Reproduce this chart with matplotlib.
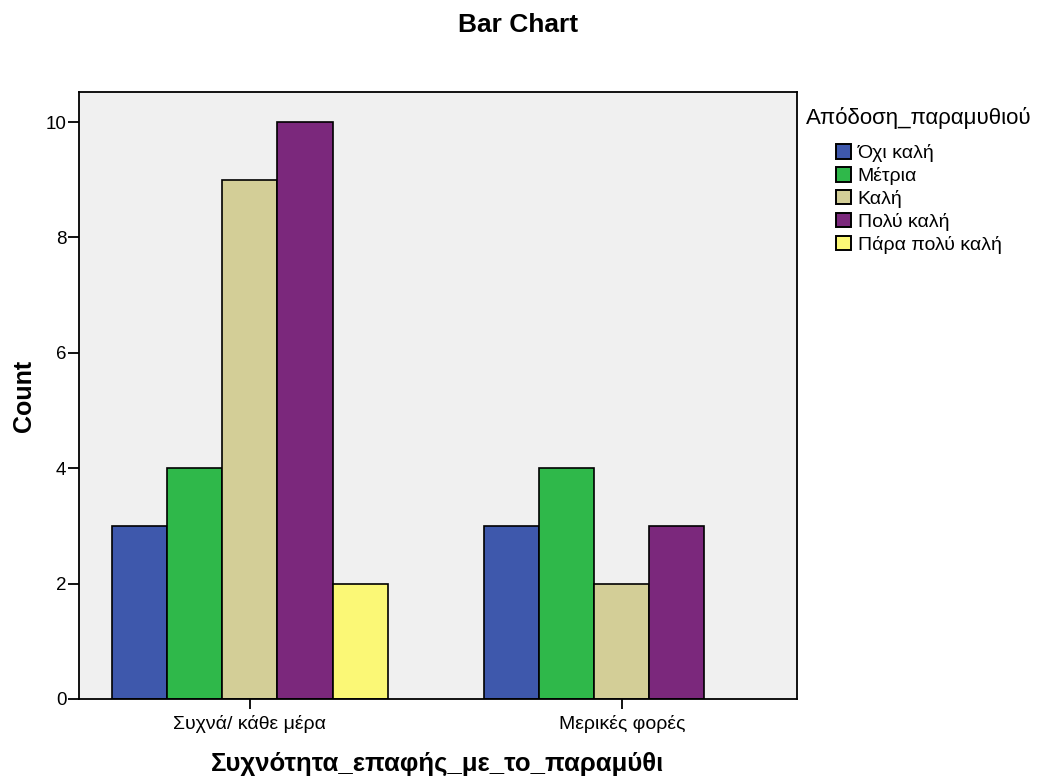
import matplotlib.pyplot as plt
import numpy as np

plt.rcParams['font.family'] = ['Liberation Sans', 'DejaVu Sans']

# data
categories = ['Συχνά/ κάθε μέρα', 'Μερικές φορές']
series_names = ['Όχι καλή', 'Μέτρια', 'Καλή', 'Πολύ καλή', 'Πάρα πολύ καλή']
counts = [
    [3, 3],    # Όχι καλή
    [4, 4],    # Μέτρια
    [9, 2],    # Καλή
    [10, 3],   # Πολύ καλή
    [2, 0],    # Πάρα πολύ καλή
]
colors = ['#3e58ac', '#2fb84a', '#d3ce97', '#7b287c', '#fbf876']

fig = plt.figure(figsize=(10.43, 7.8), dpi=100)
ax = fig.add_axes([0.0757, 0.104, 0.688, 0.778])
ax.set_facecolor('#f0f0f0')

x = np.arange(len(categories))
w = 0.148
handles = []
for i in range(len(series_names)):
    vals = np.array(counts[i])
    pos = x + (i - 2) * w
    # zero counts are not drawn
    m = vals > 0
    ax.bar(pos[m], vals[m], width=w, color=colors[i], edgecolor='black', linewidth=1.2)
    handles.append(plt.Rectangle((0, 0), 1, 1, facecolor=colors[i], edgecolor='black', linewidth=1.4))

ax.set_xlim(-0.46, 0.47 + 1)
ax.set_ylim(0, 10.52)
ax.set_yticks([0, 2, 4, 6, 8, 10])
ax.set_xticks(x)
ax.set_xticklabels(categories, fontsize=14)
ax.tick_params(axis='y', labelsize=13.5, length=8, width=1.3, direction='out', pad=1)
ax.tick_params(axis='x', length=7.5, width=1.3, direction='out', pad=4)
for s in ax.spines.values():
    s.set_linewidth(1.3)

ax.set_ylabel('Count', fontsize=18, fontweight='bold', labelpad=7)
ax.set_xlabel('Συχνότητα_επαφής_με_το_παραμύθι', fontsize=18.5, fontweight='bold', labelpad=14)
fig.text(0.497, 0.968, 'Bar Chart', fontsize=19, fontweight='bold', ha='center', va='center')

fig.text(0.773, 0.849, 'Απόδοση_παραμυθιού', fontsize=16, ha='left', va='center')
fig.legend(handles, series_names, loc='upper left', bbox_to_anchor=(0.802, 0.815),
           frameon=False, fontsize=14, handlelength=0.75, handleheight=0.75,
           handletextpad=0.35, labelspacing=0.25, borderpad=0, borderaxespad=0)

plt.savefig('out.png', dpi=100)
